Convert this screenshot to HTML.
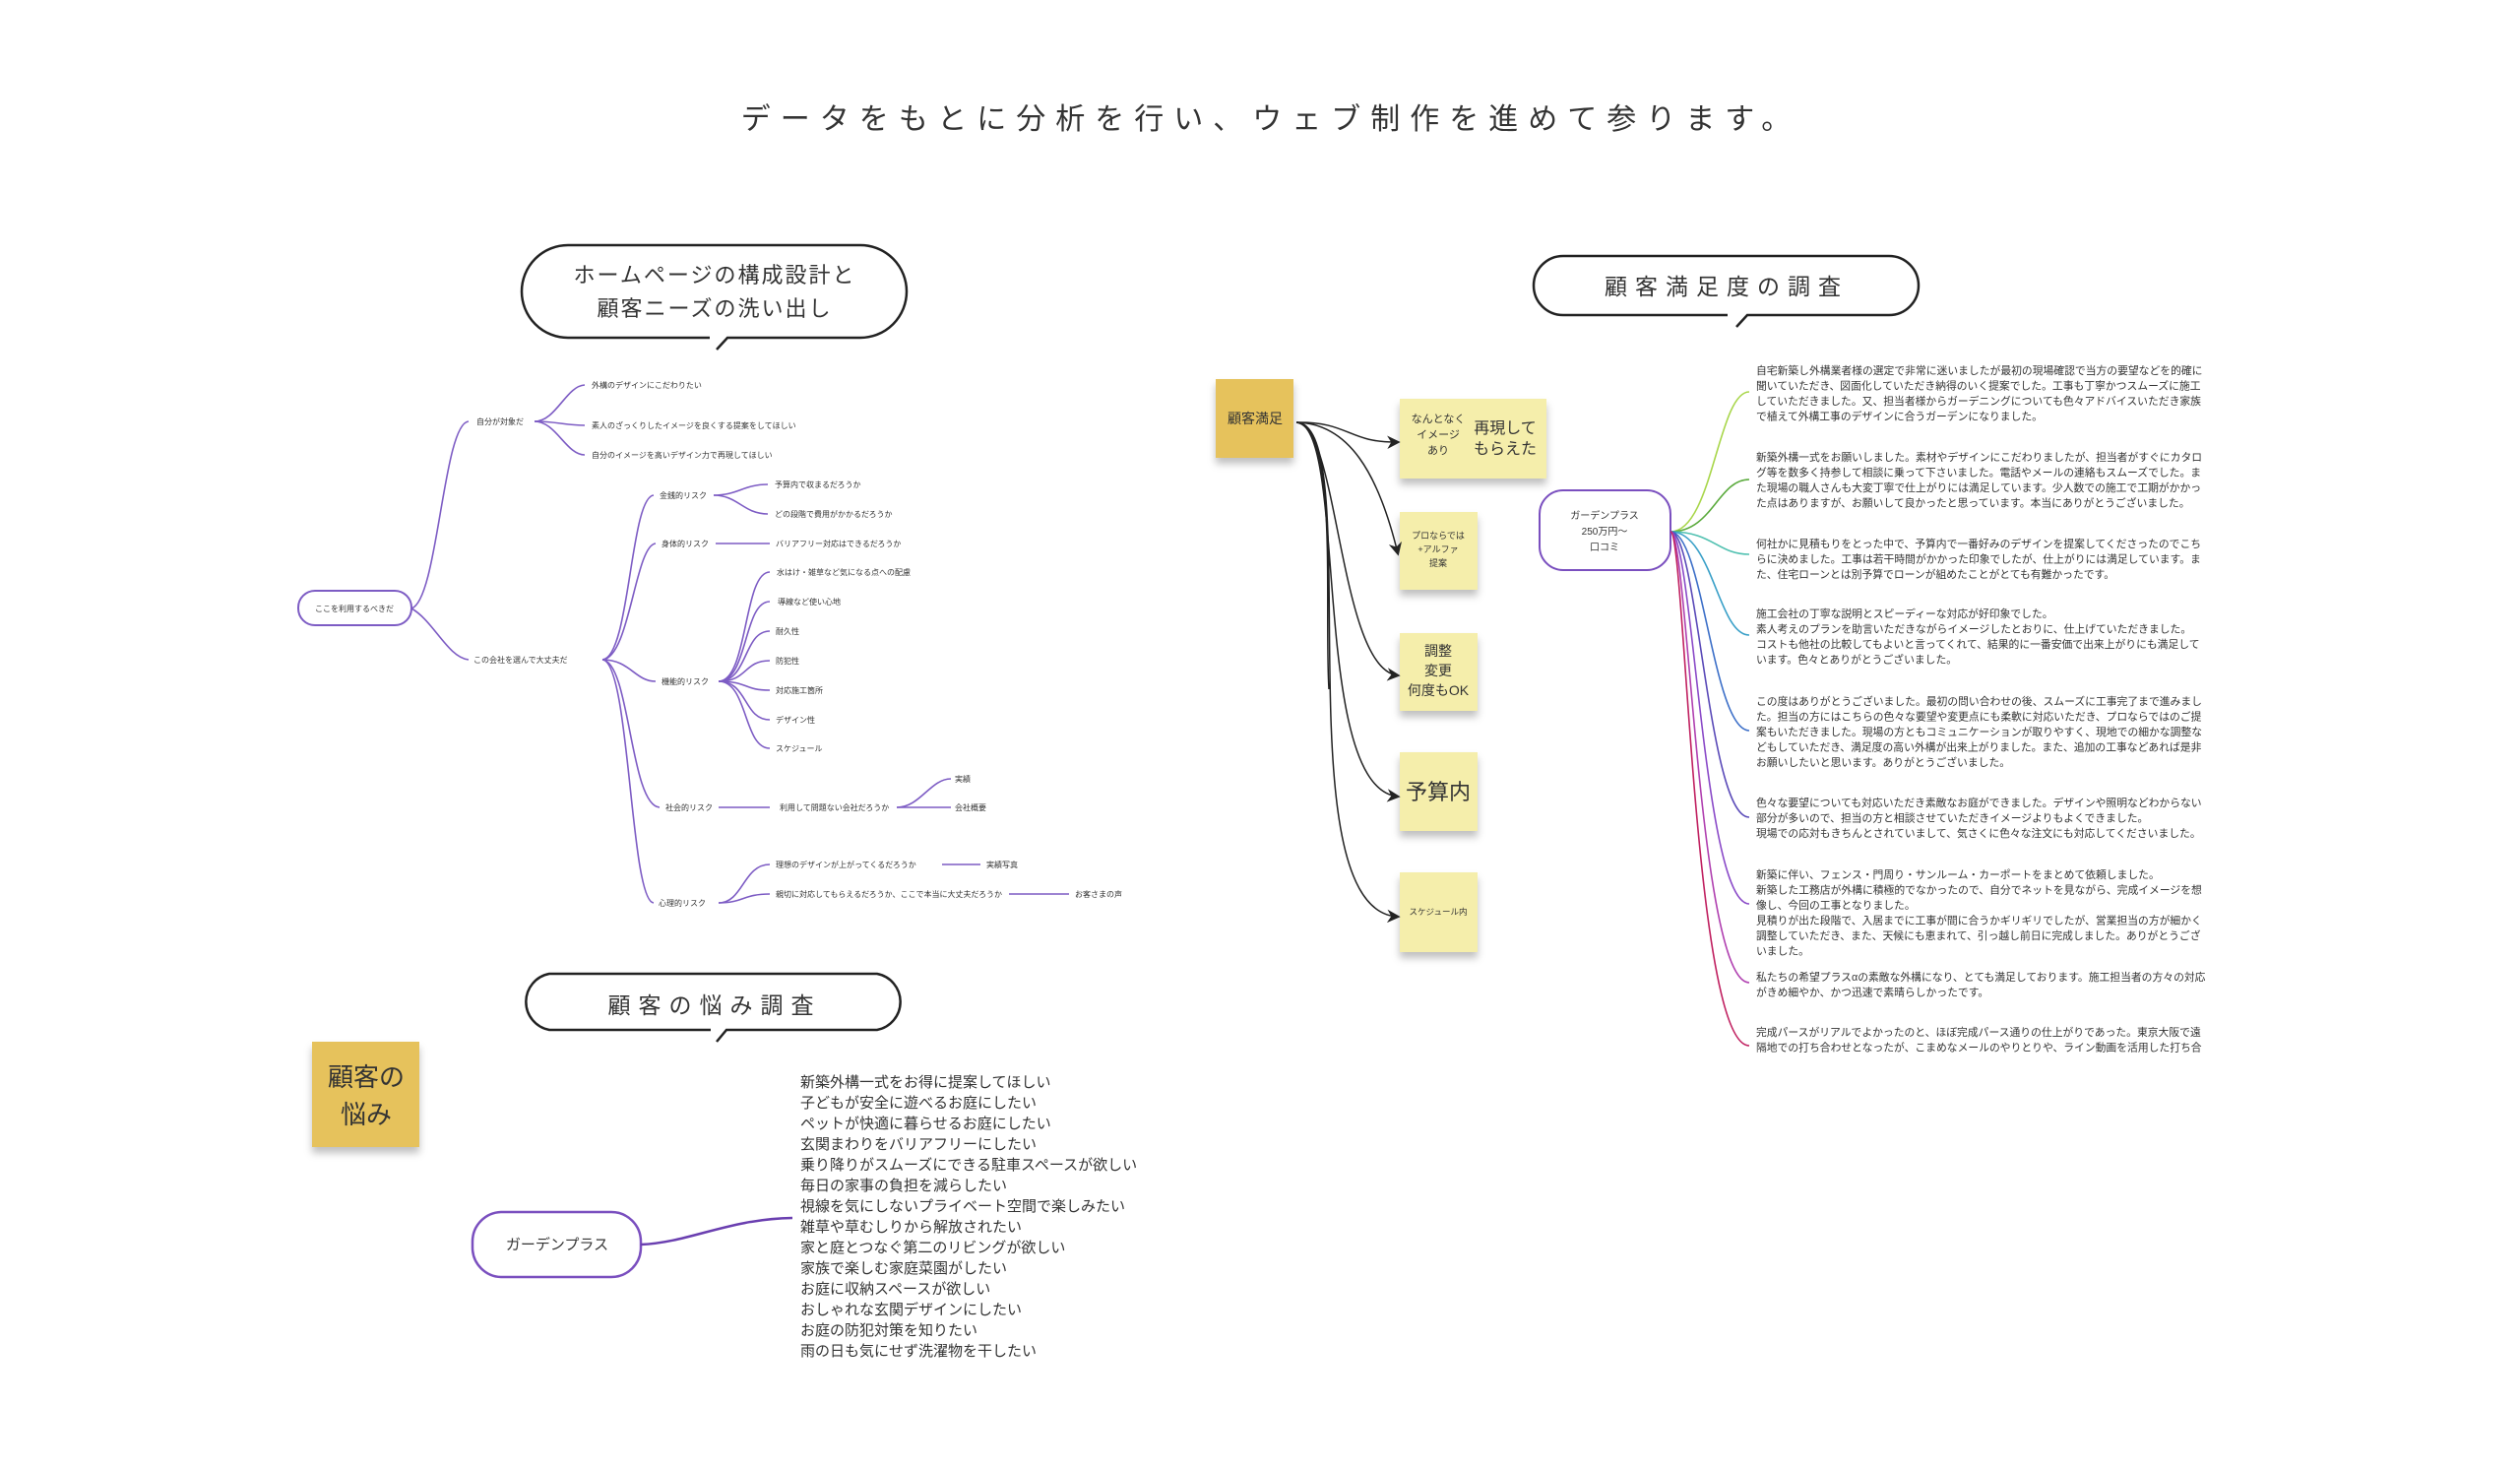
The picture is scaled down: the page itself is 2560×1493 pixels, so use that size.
<!DOCTYPE html>
<html><head><meta charset="utf-8">
<style>
html,body{margin:0;padding:0;background:#fff;width:2560px;height:1493px;overflow:hidden}
svg{display:block}
text{font-family:"Liberation Sans","Noto Sans CJK JP",sans-serif;fill:#333}
</style></head><body>
<svg width="2560" height="1493" viewBox="0 0 2560 1493" xmlns="http://www.w3.org/2000/svg">
<defs>
<filter id="sh" x="-20%" y="-20%" width="140%" height="150%"><feDropShadow dx="0" dy="6" stdDeviation="4" flood-color="#000" flood-opacity="0.25"/></filter>
<marker id="ar" viewBox="0 0 10 10" refX="8" refY="5" markerWidth="9" markerHeight="9" orient="auto-start-reverse"><path d="M0,0 L10,5 L0,10 L3,5 Z" fill="#222"/></marker>
</defs>

<!-- Title -->
<text x="1291" y="131" font-size="30" text-anchor="middle" letter-spacing="10" fill="#333">データをもとに分析を行い、ウェブ制作を進めて参ります。</text>

<!-- Bubble 1 -->
<g fill="none" stroke="#222" stroke-width="2.5">
<path d="M721,343 L577,343 A47,47 0 0 1 577,249 L874,249 A47,47 0 0 1 874,343 L739,343 L728,355"/>
</g>
<text x="726" y="287" font-size="22" text-anchor="middle" letter-spacing="2">ホームページの構成設計と</text>
<text x="726" y="321" font-size="22" text-anchor="middle" letter-spacing="2">顧客ニーズの洗い出し</text>

<!-- Bubble 2 -->
<g fill="none" stroke="#222" stroke-width="2.5">
<path d="M1755,320 L1588,320 A30,30 0 0 1 1588,260 L1919,260 A30,30 0 0 1 1919,320 L1775,320 L1764,332"/>
</g>
<text x="1754" y="299" font-size="23" text-anchor="middle" letter-spacing="8">顧客満足度の調査</text>

<!-- Bubble 3 -->
<g fill="none" stroke="#222" stroke-width="2.5">
<path d="M722,1046 L558,1046 A29,29 0 0 1 558,989 L891,989 A29,29 0 0 1 891,1046 L738,1046 L728,1058"/>
</g>
<text x="726" y="1029" font-size="23" text-anchor="middle" letter-spacing="8">顧客の悩み調査</text>

<!-- Left mindmap -->
<g fill="none" stroke="#7d5cc4" stroke-width="1.6">
<rect x="303" y="600" width="115" height="35" rx="17" stroke-width="2"/>
<path d="M418,618 C445,610 450,430 476,428"/>
<path d="M418,618 C440,630 455,668 476,670"/>
<path d="M543,428 C565,428 575,392 594,391"/>
<path d="M543,428 C565,428 575,432 594,432"/>
<path d="M543,428 C565,428 575,462 594,462"/>
<path d="M612,670 C640,668 640,505 664,503"/>
<path d="M612,670 C640,668 645,554 666,552"/>
<path d="M612,670 C640,670 645,692 666,692"/>
<path d="M612,670 C640,672 640,818 670,820"/>
<path d="M612,670 C640,672 640,915 664,917"/>
<path d="M725,503 C750,503 755,492 780,492"/>
<path d="M725,503 C750,503 755,522 780,522"/>
<path d="M727,552 L782,552"/>
<path d="M730,692 C760,692 755,581 782,581"/>
<path d="M730,692 C760,692 755,611 782,611"/>
<path d="M730,692 C760,692 755,641 782,641"/>
<path d="M730,692 C760,692 755,671 782,671"/>
<path d="M730,692 C760,692 755,701 782,701"/>
<path d="M730,692 C760,692 755,731 782,731"/>
<path d="M730,692 C760,692 755,760 782,760"/>
<path d="M730,820 L782,820"/>
<path d="M911,820 C935,820 945,791 966,791"/>
<path d="M911,820 L966,820"/>
<path d="M730,917 C755,917 755,878 782,878"/>
<path d="M730,917 C755,917 755,908 782,908"/>
<path d="M957,878 L996,878"/>
<path d="M1025,908 L1086,908"/>
</g>
<g font-size="8" fill="#444">
<text x="360" y="621" text-anchor="middle">ここを利用するべきだ</text>
<text x="484" y="431">自分が対象だ</text>
<text x="601" y="394">外構のデザインにこだわりたい</text>
<text x="601" y="435">素人のざっくりしたイメージを良くする提案をしてほしい</text>
<text x="601" y="465">自分のイメージを高いデザイン力で再現してほしい</text>
<text x="481" y="673">この会社を選んで大丈夫だ</text>
<text x="670" y="506">金銭的リスク</text>
<text x="672" y="555">身体的リスク</text>
<text x="672" y="695">機能的リスク</text>
<text x="676" y="823">社会的リスク</text>
<text x="669" y="920">心理的リスク</text>
<text x="787" y="495">予算内で収まるだろうか</text>
<text x="787" y="525">どの段階で費用がかかるだろうか</text>
<text x="788" y="555">バリアフリー対応はできるだろうか</text>
<text x="789" y="584">水はけ・雑草など気になる点への配慮</text>
<text x="790" y="614">導線など使い心地</text>
<text x="788" y="644">耐久性</text>
<text x="788" y="674">防犯性</text>
<text x="788" y="704">対応施工箇所</text>
<text x="788" y="734">デザイン性</text>
<text x="788" y="763">スケジュール</text>
<text x="792" y="823">利用して問題ない会社だろうか</text>
<text x="970" y="794">実績</text>
<text x="970" y="823">会社概要</text>
<text x="788" y="881">理想のデザインが上がってくるだろうか</text>
<text x="1002" y="881">実績写真</text>
<text x="788" y="911">親切に対応してもらえるだろうか、ここで本当に大丈夫だろうか</text>
<text x="1092" y="911">お客さまの声</text>
</g>

<!-- Middle stickies -->
<rect x="1235" y="385" width="79" height="80" fill="#e6c25c" filter="url(#sh)"/>
<text x="1275" y="430" font-size="14" text-anchor="middle" fill="#333">顧客満足</text>
<g fill="#f5eeab" filter="url(#sh)">
<rect x="1422" y="405" width="149" height="81"/>
<rect x="1422" y="520" width="79" height="79"/>
<rect x="1422" y="643" width="79" height="79"/>
<rect x="1422" y="764" width="79" height="80"/>
<rect x="1422" y="886" width="79" height="81"/>
</g>
<g text-anchor="middle" fill="#333">
<text x="1461" y="429" font-size="11">なんとなく</text>
<text x="1461" y="445" font-size="11">イメージ</text>
<text x="1461" y="461" font-size="11">あり</text>
<text x="1529" y="440" font-size="16">再現して</text>
<text x="1529" y="461" font-size="16">もらえた</text>
<text x="1461" y="547" font-size="9">プロならでは</text>
<text x="1461" y="561" font-size="9">+アルファ</text>
<text x="1461" y="575" font-size="9">提案</text>
<text x="1461" y="666" font-size="14">調整</text>
<text x="1461" y="686" font-size="14">変更</text>
<text x="1461" y="706" font-size="14">何度もOK</text>
<text x="1461" y="812" font-size="22">予算内</text>
<text x="1461" y="929" font-size="8.5">スケジュール内</text>
</g>
<g fill="none" stroke="#222" stroke-width="1.5" marker-end="url(#ar)">
<path d="M1317,429 C1370,428 1370,450 1420,449"/>
<path d="M1317,429 C1370,430 1400,480 1420,562"/>
<path d="M1317,429 C1360,430 1360,680 1420,686"/>
<path d="M1317,429 C1370,430 1330,800 1420,809"/>
<path d="M1317,429 C1390,430 1300,925 1420,931"/>
<path d="M1317,429 C1360,435 1345,620 1350,700" marker-end="none"/>
</g>

<!-- Review node -->
<rect x="1564" y="498" width="133" height="81" rx="24" fill="#fff" stroke="#7a4fbf" stroke-width="2"/>
<g font-size="10" text-anchor="middle" fill="#444">
<text x="1630" y="527">ガーデンプラス</text>
<text x="1630" y="543">250万円〜</text>
<text x="1630" y="559">口コミ</text>
</g>
<g fill="none" stroke-width="1.6">
<path d="M1697,540 C1740,540 1745,398 1777,398" stroke="#a8d64a"/>
<path d="M1697,540 C1740,540 1745,487 1777,487" stroke="#5aaa3c"/>
<path d="M1697,540 C1740,540 1745,563 1777,563" stroke="#4fc0b0"/>
<path d="M1697,540 C1740,540 1745,645 1777,645" stroke="#3aa0c8"/>
<path d="M1697,540 C1730,540 1740,742 1777,742" stroke="#3c6fc8"/>
<path d="M1697,540 C1725,540 1735,830 1777,830" stroke="#5a4ab8"/>
<path d="M1697,540 C1720,540 1730,918 1777,918" stroke="#8a4ac8"/>
<path d="M1697,540 C1715,540 1725,998 1777,998" stroke="#b040b0"/>
<path d="M1697,540 C1712,540 1720,1062 1777,1062" stroke="#c02060"/>
</g>
<g font-size="10.8" fill="#444">
<text x="1784" y="380">自宅新築し外構業者様の選定で非常に迷いましたが最初の現場確認で当方の要望などを的確に</text>
<text x="1784" y="395.5">聞いていただき、図面化していただき納得のいく提案でした。工事も丁寧かつスムーズに施工</text>
<text x="1784" y="411">していただきました。又、担当者様からガーデニングについても色々アドバイスいただき家族</text>
<text x="1784" y="426.5">で植えて外構工事のデザインに合うガーデンになりました。</text>

<text x="1784" y="468">新築外構一式をお願いしました。素材やデザインにこだわりましたが、担当者がすぐにカタロ</text>
<text x="1784" y="483.5">グ等を数多く持参して相談に乗って下さいました。電話やメールの連絡もスムーズでした。ま</text>
<text x="1784" y="499">た現場の職人さんも大変丁寧で仕上がりには満足しています。少人数での施工で工期がかかっ</text>
<text x="1784" y="514.5">た点はありますが、お願いして良かったと思っています。本当にありがとうございました。</text>

<text x="1784" y="556">何社かに見積もりをとった中で、予算内で一番好みのデザインを提案してくださったのでこち</text>
<text x="1784" y="571.5">らに決めました。工事は若干時間がかかった印象でしたが、仕上がりには満足しています。ま</text>
<text x="1784" y="587">た、住宅ローンとは別予算でローンが組めたことがとても有難かったです。</text>

<text x="1784" y="627">施工会社の丁寧な説明とスピーディーな対応が好印象でした。</text>
<text x="1784" y="642.5">素人考えのプランを助言いただきながらイメージしたとおりに、仕上げていただきました。</text>
<text x="1784" y="658">コストも他社の比較してもよいと言ってくれて、結果的に一番安価で出来上がりにも満足して</text>
<text x="1784" y="673.5">います。色々とありがとうございました。</text>

<text x="1784" y="716">この度はありがとうございました。最初の問い合わせの後、スムーズに工事完了まで進みまし</text>
<text x="1784" y="731.5">た。担当の方にはこちらの色々な要望や変更点にも柔軟に対応いただき、プロならではのご提</text>
<text x="1784" y="747">案もいただきました。現場の方ともコミュニケーションが取りやすく、現地での細かな調整な</text>
<text x="1784" y="762.5">どもしていただき、満足度の高い外構が出来上がりました。また、追加の工事などあれば是非</text>
<text x="1784" y="778">お願いしたいと思います。ありがとうございました。</text>

<text x="1784" y="819">色々な要望についても対応いただき素敵なお庭ができました。デザインや照明などわからない</text>
<text x="1784" y="834.5">部分が多いので、担当の方と相談させていただきイメージよりもよくできました。</text>
<text x="1784" y="850">現場での応対もきちんとされていまして、気さくに色々な注文にも対応してくださいました。</text>

<text x="1784" y="892">新築に伴い、フェンス・門周り・サンルーム・カーポートをまとめて依頼しました。</text>
<text x="1784" y="907.5">新築した工務店が外構に積極的でなかったので、自分でネットを見ながら、完成イメージを想</text>
<text x="1784" y="923">像し、今回の工事となりました。</text>
<text x="1784" y="938.5">見積りが出た段階で、入居までに工事が間に合うかギリギリでしたが、営業担当の方が細かく</text>
<text x="1784" y="954">調整していただき、また、天候にも恵まれて、引っ越し前日に完成しました。ありがとうござ</text>
<text x="1784" y="969.5">いました。</text>

<text x="1784" y="996">私たちの希望プラスαの素敵な外構になり、とても満足しております。施工担当者の方々の対応</text>
<text x="1784" y="1011.5">がきめ細やか、かつ迅速で素晴らしかったです。</text>

<text x="1784" y="1052">完成パースがリアルでよかったのと、ほぼ完成パース通りの仕上がりであった。東京大阪で遠</text>
<text x="1784" y="1067.5">隔地での打ち合わせとなったが、こまめなメールのやりとりや、ライン動画を活用した打ち合</text>
</g>

<!-- Bottom section -->
<rect x="317" y="1058" width="109" height="107" fill="#e6c25c" filter="url(#sh)"/>
<text x="372" y="1103" font-size="26" text-anchor="middle" fill="#333">顧客の</text>
<text x="372" y="1141" font-size="26" text-anchor="middle" fill="#333">悩み</text>

<rect x="480" y="1231" width="171" height="66" rx="30" fill="#fff" stroke="#7a4fbf" stroke-width="2.5"/>
<text x="566" y="1269" font-size="15" text-anchor="middle" fill="#333">ガーデンプラス</text>
<path d="M651,1264 C700,1262 740,1238 805,1237" fill="none" stroke="#6a3fb0" stroke-width="2.5"/>
<g font-size="15" fill="#333">
<text x="813" y="1104">新築外構一式をお得に提案してほしい</text>
<text x="813" y="1125">子どもが安全に遊べるお庭にしたい</text>
<text x="813" y="1146">ペットが快適に暮らせるお庭にしたい</text>
<text x="813" y="1167">玄関まわりをバリアフリーにしたい</text>
<text x="813" y="1188">乗り降りがスムーズにできる駐車スペースが欲しい</text>
<text x="813" y="1209">毎日の家事の負担を減らしたい</text>
<text x="813" y="1230">視線を気にしないプライベート空間で楽しみたい</text>
<text x="813" y="1251">雑草や草むしりから解放されたい</text>
<text x="813" y="1272">家と庭とつなぐ第二のリビングが欲しい</text>
<text x="813" y="1293">家族で楽しむ家庭菜園がしたい</text>
<text x="813" y="1314">お庭に収納スペースが欲しい</text>
<text x="813" y="1335">おしゃれな玄関デザインにしたい</text>
<text x="813" y="1356">お庭の防犯対策を知りたい</text>
<text x="813" y="1377">雨の日も気にせず洗濯物を干したい</text>
</g>
</svg>
</body></html>
